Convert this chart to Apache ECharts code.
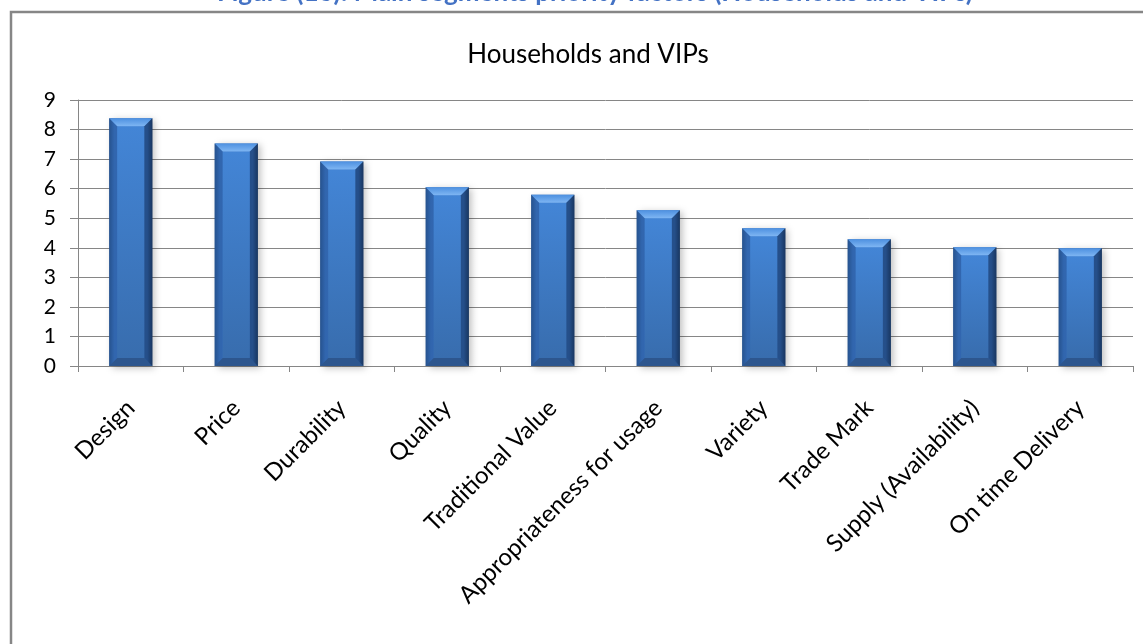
<!DOCTYPE html>
<html>
<head>
<meta charset="utf-8">
<title>Households and VIPs</title>
<script src="https://cdn.jsdelivr.net/npm/echarts@6/dist/echarts.min.js"></script>
<style>
  html, body { margin: 0; padding: 0; background: #fff; }
  #chart { width: 1143px; height: 644px; }
</style>
</head>
<body>
<div id="chart"></div>
<script>
// Priority factors for the households and VIPs segment
const categories = [
  'Design', 'Price', 'Durability', 'Quality', 'Traditional Value',
  'Appropriateness for usage', 'Variety', 'Trade Mark',
  'Supply (Availability)', 'On time Delivery'
];
const scores = [8.38, 7.53, 6.92, 6.05, 5.79, 5.27, 4.66, 4.29, 4.02, 3.98];
const yTicks = [0, 1, 2, 3, 4, 5, 6, 7, 8, 9];

const FONT = 'Lato, "Open Sans", "DejaVu Sans", sans-serif';

const chart = echarts.init(document.getElementById('chart'), null, { renderer: 'canvas' });

// Bevelled column: body with side shading, lighter top bevel, darker bottom bevel
function renderBevelBar(params, api) {
  const idx = api.value(0);
  const val = api.value(1);
  const top = api.coord([idx, val]);
  const base = api.coord([idx, 0]);
  const bandW = api.size([1, 0])[0];
  const w = bandW * 0.41;
  const x0 = top[0] - w / 2;
  const x1 = top[0] + w / 2;
  const y0 = top[1];
  const y1 = base[1];
  const b = Math.min(8, (y1 - y0) / 3);
  return {
    type: 'group',
    children: [
      {
        type: 'rect',
        shape: { x: x0, y: y0, width: w, height: y1 - y0 },
        style: {
          fill: new echarts.graphic.LinearGradient(0, 0, 1, 0, [
            { offset: 0, color: '#2a5894' },
            { offset: 0.12, color: '#3a74c2' },
            { offset: 0.5, color: '#3f7dcc' },
            { offset: 0.88, color: '#3670bd' },
            { offset: 1, color: '#1e3f6c' }
          ]),
          shadowBlur: 7,
          shadowOffsetX: 3,
          shadowOffsetY: 2,
          shadowColor: 'rgba(0,0,0,0.25)'
        }
      },
      {
        type: 'rect',
        shape: { x: x0 + b, y: y0 + b, width: w - 2 * b, height: y1 - y0 - 2 * b },
        style: {
          fill: new echarts.graphic.LinearGradient(0, 0, 0, 1, [
            { offset: 0, color: '#4385d6' },
            { offset: 1, color: '#386dae' }
          ])
        }
      },
      {
        type: 'polygon',
        shape: { points: [[x0, y0], [x1, y0], [x1 - b, y0 + b], [x0 + b, y0 + b]] },
        style: {
          fill: new echarts.graphic.LinearGradient(0, 0, 0, 1, [
            { offset: 0, color: '#4d90e0' },
            { offset: 1, color: '#7fb6f3' }
          ])
        }
      },
      {
        type: 'polygon',
        shape: { points: [[x0, y1], [x1, y1], [x1 - b, y1 - b], [x0 + b, y1 - b]] },
        style: { fill: '#2d568e' }
      },
      {
        type: 'polygon',
        shape: { points: [[x1, y0], [x1, y1], [x1 - b, y1 - b], [x1 - b, y0 + b]] },
        style: { fill: 'rgba(20,45,85,0.5)' }
      },
      {
        type: 'polygon',
        shape: { points: [[x0, y0], [x0, y1], [x0 + b, y1 - b], [x0 + b, y0 + b]] },
        style: { fill: 'rgba(30,70,130,0.3)' }
      }
    ]
  };
}

const option = {
  backgroundColor: '#ffffff',
  animation: false,
  graphic: [
    {
      type: 'text',
      x: 595,
      y: -20,
      style: {
        text: 'Figure (16): Main segments priority factors (Households and VIPs)',
        font: 'bold 26px Lato, "Liberation Sans", Arial, sans-serif',
        fill: '#4472c4',
        align: 'center',
        verticalAlign: 'top'
      }
    },
    {
      type: 'rect',
      shape: { x: 11, y: 12, width: 1160, height: 700 },
      style: { fill: 'none', stroke: '#868686', lineWidth: 2.5 }
    }
  ],
  title: {
    text: 'Households and VIPs',
    left: 583,
    textAlign: 'center',
    top: 37,
    textStyle: {
      fontFamily: FONT,
      fontSize: 26,
      fontWeight: 'normal',
      color: '#000'
    }
  },
  grid: { left: 78, right: 10, top: 100, bottom: 278 },
  xAxis: {
    type: 'category',
    data: categories,
    axisLine: { show: true, lineStyle: { color: '#868686', width: 1 } },
    axisTick: { show: true, alignWithLabel: false, length: 6, lineStyle: { color: '#868686' } },
    axisLabel: {
      rotate: 45,
      interval: 0,
      margin: 38,
      fontFamily: FONT,
      fontSize: 24,
      color: '#000'
    }
  },
  yAxis: {
    type: 'value',
    min: 0,
    max: 9,
    interval: 1,
    axisLine: { show: true, lineStyle: { color: '#868686', width: 1 } },
    axisTick: { show: true, length: 8, inside: false, lineStyle: { color: '#868686' } },
    splitLine: { show: true, lineStyle: { color: '#868686', width: 1 } },
    axisLabel: {
      margin: 22,
      fontFamily: FONT,
      fontSize: 21,
      color: '#000',
      formatter: function (v) { return yTicks.indexOf(v) >= 0 ? String(v) : ''; }
    }
  },
  series: [
    {
      type: 'custom',
      renderItem: renderBevelBar,
      encode: { x: 0, y: 1 },
      data: scores.map(function (v, i) { return [i, v]; }),
      z: 3
    }
  ]
};

chart.setOption(option);
</script>
</body>
</html>
